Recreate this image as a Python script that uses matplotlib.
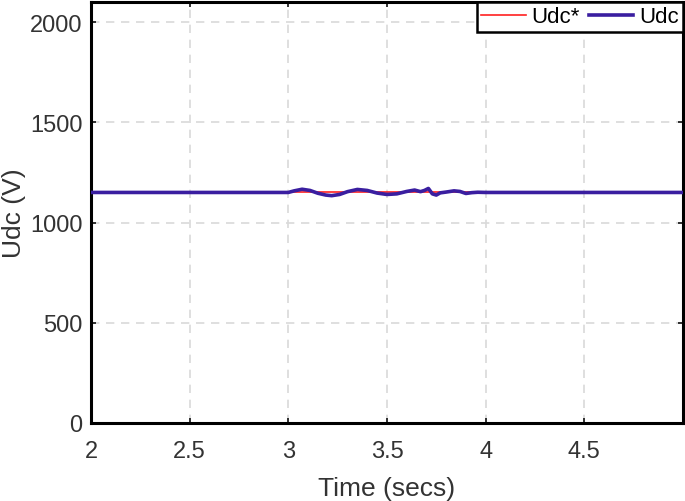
import matplotlib
matplotlib.use("Agg")
import matplotlib.pyplot as plt

plt.rcParams['font.family'] = ['Liberation Sans', 'DejaVu Sans']

# Reference voltage
t_ref = [2.0, 5.0]
udc_ref = [1150, 1150]

# Measured DC voltage
t_udc = [2.00, 2.50, 3.00, 3.03, 3.07, 3.11, 3.15, 3.19, 3.22, 3.26, 3.30, 3.35,
         3.40, 3.45, 3.50, 3.55, 3.60, 3.64, 3.67, 3.69, 3.71, 3.73, 3.75, 3.77,
         3.80, 3.84, 3.87, 3.90, 3.93, 3.96, 4.00, 4.50, 5.00]
udc = [1150, 1150, 1150, 1158, 1166, 1160, 1146, 1137, 1134, 1140, 1154, 1165,
       1160, 1147, 1140, 1143, 1155, 1162, 1154, 1160, 1170, 1143, 1137, 1148,
       1152, 1158, 1155, 1145, 1149, 1151, 1150, 1150, 1150]

xticks = [2, 2.5, 3, 3.5, 4, 4.5]
xtick_labels = ['2', '2.5', '3', '3.5', '4', '4.5']
yticks = [0, 500, 1000, 1500, 2000]

fig = plt.figure(figsize=(6.85, 5.02), dpi=100)
ax = fig.add_axes([0.1328, 0.1554, 0.8642, 0.8386])

ax.plot(t_ref, udc_ref, color='#ff2020', lw=1.2, label='Udc*', zorder=2)
ax.plot(t_udc, udc, color='#3a1ea0', lw=2.6, label='Udc', zorder=3)

ax.set_xlim(2, 5)
ax.set_ylim(0, 2100)
ax.set_xticks(xticks)
ax.set_xticklabels(xtick_labels)
ax.set_yticks(yticks)
ax.tick_params(axis='both', direction='in', length=3.5, width=1.3, color='#222222',
               labelsize=17, labelcolor='#333333', top=True, right=True)
ax.tick_params(axis='x', pad=12)
ax.tick_params(axis='y', pad=6)
ax.grid(True, ls=(0, (5, 4)), color='#d9d9d9', lw=1.2)
ax.set_axisbelow(True)
for s in ax.spines.values():
    s.set_linewidth(2.2)
    s.set_color('black')

ax.set_xlabel('Time (secs)', fontsize=19, color='#333333', labelpad=10)
ax.set_ylabel('Udc (V)', fontsize=19, color='#333333', labelpad=3)

leg = ax.legend(loc='upper right', ncol=2, fontsize=16, frameon=True, fancybox=False,
                borderpad=0.2, handlelength=2.0, handletextpad=0.25, columnspacing=0.4,
                borderaxespad=0.0)
leg.get_frame().set_edgecolor('black')
leg.get_frame().set_linewidth(1.8)
leg.get_frame().set_alpha(1)

fig.savefig('out.png', dpi=100)
